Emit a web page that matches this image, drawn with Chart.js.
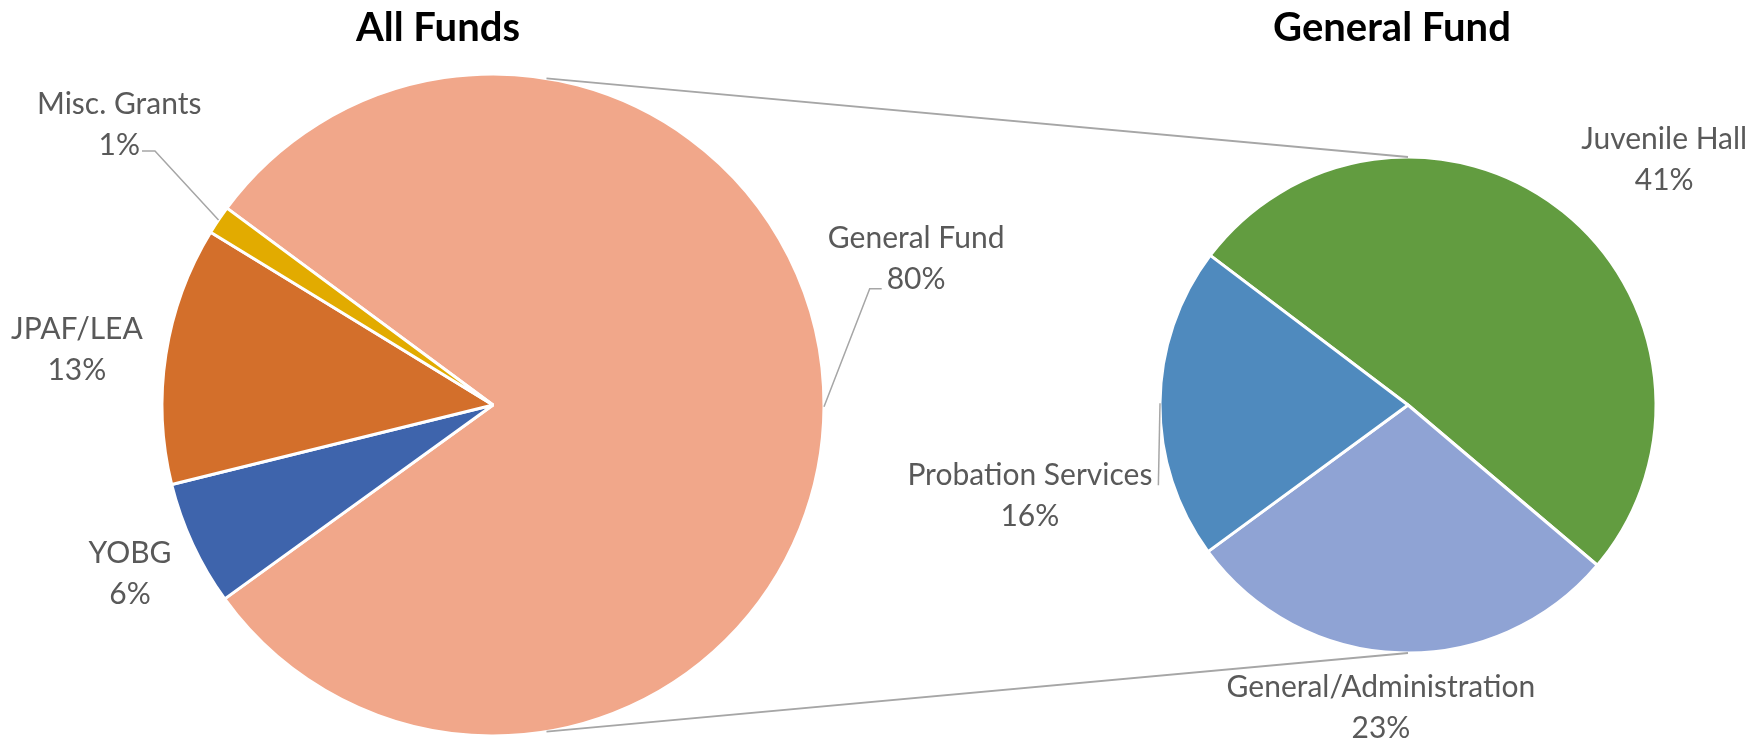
<!DOCTYPE html>
<html>
<head>
<meta charset="utf-8">
<title>All Funds / General Fund</title>
<script src="https://cdn.jsdelivr.net/npm/chart.js@4.4.0/dist/chart.umd.min.js"></script>
<style>
  html, body { margin: 0; padding: 0; background: #ffffff; }
  #wrap { position: relative; width: 1752px; height: 743px; overflow: hidden; }
  #wrap canvas { position: absolute; left: 0; top: 0; }
</style>
</head>
<body>
<div id="wrap">
  <canvas id="all-funds" width="1752" height="743"></canvas>
  <canvas id="general-fund" width="1752" height="743"></canvas>
</div>
<script>
// All Funds, share of total budget (%)
const allFundsLabels = ["General Fund", "YOBG", "JPAF/LEA", "Misc. Grants"];
const allFundsValues = [79.9, 6.1, 12.6, 1.4];
const allFundsColors = ["#F1A78A", "#3E64AC", "#D36F2B", "#E2AB00"];

// General Fund split, share of total budget (%)
const generalFundLabels = ["Juvenile Hall", "General/Administration", "Probation Services"];
const generalFundValues = [40.7, 23.0, 16.3];
const generalFundColors = ["#629C40", "#8FA3D4", "#4F8ABE"];

const PAGE_W = 1752, PAGE_H = 743;
const LABEL_FONT = "30px Lato";
const TITLE_FONT = "bold 40px Lato";
const TEXT_GREY = "#595959";
const LINE_GREY = "#A6A6A6";
const SLICE_BORDER = 3;

// angle: degrees clockwise from 12 o'clock, dist: multiple of the pie radius
function polar(cx, cy, angleDeg, dist) {
  const a = (angleDeg - 90) * Math.PI / 180;
  return { x: cx + Math.cos(a) * dist, y: cy + Math.sin(a) * dist };
}

// padding that leaves a square chart area around (cx, cy) for radius r
function padAround(cx, cy, r) {
  const half = r + SLICE_BORDER / 2;
  return { left: cx - half, top: cy - half, right: PAGE_W - cx - half, bottom: PAGE_H - cy - half };
}

// Two-line data labels ("name" / "nn%"), optional leader line to the slice edge
const sliceLabels = {
  id: "sliceLabels",
  afterDatasetsDraw(chart, args, opts) {
    const { ctx } = chart;
    const arcs = chart.getDatasetMeta(0).data;
    const values = chart.data.datasets[0].data;
    ctx.save();
    ctx.font = LABEL_FONT;
    ctx.fillStyle = TEXT_GREY;
    ctx.textAlign = "center";
    ctx.textBaseline = "middle";
    arcs.forEach((arc, i) => {
      const spot = opts.spots[i];
      const r = arc.outerRadius;
      const c = polar(arc.x, arc.y, spot.angle, spot.dist * r);
      const lines = [chart.data.labels[i], Math.round(values[i]) + "%"];
      const ys = [c.y - opts.lineHeight / 2, c.y + opts.lineHeight / 2];
      lines.forEach((t, k) => ctx.fillText(t, c.x, ys[k]));

      const L = spot.leader;
      if (!L) return;
      const side = L.side === "left" ? -1 : 1;
      const w = ctx.measureText(lines[L.line]).width;
      const endX = c.x + side * (w / 2 + L.gap);
      const endY = ys[L.line] + L.dy;
      const mid = (arc.startAngle + arc.endAngle) / 2;
      ctx.beginPath();
      ctx.moveTo(arc.x + Math.cos(mid) * r, arc.y + Math.sin(mid) * r);
      ctx.lineTo(endX + side * L.tick, endY);
      ctx.lineTo(endX, endY);
      ctx.strokeStyle = LINE_GREY;
      ctx.lineWidth = 1.5;
      ctx.stroke();
    });
    ctx.restore();
  }
};

const panelTitle = {
  id: "panelTitle",
  afterDraw(chart, args, opts) {
    const { ctx } = chart;
    ctx.save();
    ctx.font = TITLE_FONT;
    ctx.fillStyle = "#000000";
    ctx.textAlign = "center";
    ctx.textBaseline = "middle";
    ctx.fillText(opts.text, opts.x, opts.y);
    ctx.restore();
  }
};

// Pie-of-pie connector lines between the two circles
const connectors = {
  id: "connectors",
  afterDatasetsDraw(chart, args, opts) {
    const src = opts.source();
    if (!src) return;
    const a = src.getDatasetMeta(0).data[0];
    const b = chart.getDatasetMeta(0).data[0];
    const { ctx } = chart;
    ctx.save();
    ctx.strokeStyle = LINE_GREY;
    ctx.lineWidth = 1.8;
    opts.pairs.forEach(([fromDeg, toDeg]) => {
      const p = polar(a.x, a.y, fromDeg, a.outerRadius);
      const q = polar(b.x, b.y, toDeg, b.outerRadius);
      ctx.beginPath();
      ctx.moveTo(p.x, p.y);
      ctx.lineTo(q.x, q.y);
      ctx.stroke();
    });
    ctx.restore();
  }
};

function pieOptions(pad, rotation, extra) {
  return Object.assign({
    responsive: false,
    animation: false,
    events: [],
    rotation: rotation,
    layout: { padding: pad },
    plugins: { legend: { display: false }, tooltip: { enabled: false } },
  }, extra);
}

let allFundsChart = null;

function build() {
  allFundsChart = new Chart(document.getElementById("all-funds").getContext("2d"), {
    type: "pie",
    data: {
      labels: allFundsLabels,
      datasets: [{
        data: allFundsValues,
        backgroundColor: allFundsColors,
        borderColor: "#ffffff",
        borderWidth: SLICE_BORDER,
        hoverBorderWidth: SLICE_BORDER,
        hoverOffset: 0,
      }],
    },
    options: pieOptions(padAround(493, 405, 331), 306.5, {
      plugins: {
        legend: { display: false },
        tooltip: { enabled: false },
        panelTitle: { text: "All Funds", x: 438, y: 28 },
        sliceLabels: {
          lineHeight: 41,
          spots: [
            { angle: 71.0, dist: 1.352, leader: { line: 1, side: "left", gap: 5, tick: 12, dy: 9 } },
            { angle: 245.0, dist: 1.210 },
            { angle: 277.5, dist: 1.268 },
            { angle: 306.9, dist: 1.412, leader: { line: 1, side: "right", gap: 2, tick: 13, dy: 6 } },
          ],
        },
      },
    }),
    plugins: [sliceLabels, panelTitle],
  });

  new Chart(document.getElementById("general-fund").getContext("2d"), {
    type: "pie",
    data: {
      labels: generalFundLabels,
      datasets: [{
        data: generalFundValues,
        backgroundColor: generalFundColors,
        borderColor: "#ffffff",
        borderWidth: SLICE_BORDER,
        hoverBorderWidth: SLICE_BORDER,
        hoverOffset: 0,
      }],
    },
    options: pieOptions(padAround(1408, 405, 248), 307.1, {
      plugins: {
        legend: { display: false },
        tooltip: { enabled: false },
        panelTitle: { text: "General Fund", x: 1392, y: 28 },
        connectors: { source: () => allFundsChart, pairs: [[9.3, 0], [170.7, 180]] },
        sliceLabels: {
          lineHeight: 41,
          spots: [
            { angle: 46.3, dist: 1.429 },
            { angle: 185.1, dist: 1.227 },
            { angle: 256.5, dist: 1.568, leader: { line: 0, side: "right", gap: 6, tick: 0, dy: 10 } },
          ],
        },
      },
    }),
    plugins: [connectors, sliceLabels, panelTitle],
  });
}

Promise.all([
  document.fonts.load(LABEL_FONT),
  document.fonts.load(TITLE_FONT),
]).then(build, build);
</script>
</body>
</html>
